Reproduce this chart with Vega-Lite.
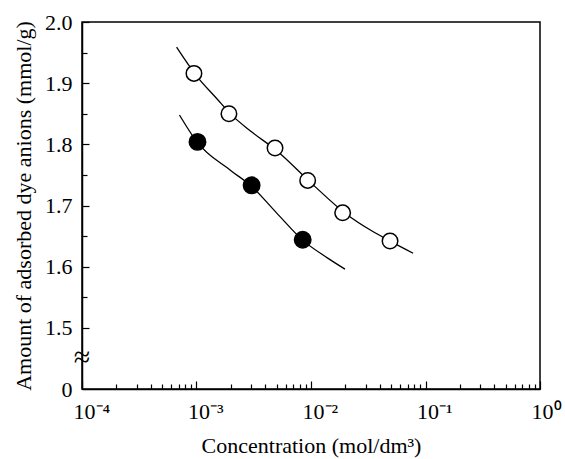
{
  "$schema": "https://vega.github.io/schema/vega-lite/v6.json",
  "width": 458,
  "height": 367,
  "autosize": {"type": "none"},
  "padding": {"left": 82, "top": 22, "right": 25, "bottom": 70},
  "background": "white",
  "config": {
    "view": {"stroke": "black", "strokeWidth": 1.5},
    "font": "Liberation Serif",
    "axis": {
      "grid": false,
      "domainColor": "black",
      "domainWidth": 1.5,
      "tickColor": "black",
      "tickWidth": 1.2,
      "labelColor": "black",
      "titleColor": "black",
      "labelFont": "Liberation Serif",
      "titleFont": "Liberation Serif",
      "labelFontSize": 22,
      "titleFontSize": 22,
      "titleFontWeight": "normal"
    }
  },
  "datasets": {
    "curves": [
      {"series": "open", "conc": 0.00067, "amount": 1.959},
      {"series": "open", "conc": 0.001, "amount": 1.912},
      {"series": "open", "conc": 0.0015, "amount": 1.875},
      {"series": "open", "conc": 0.002, "amount": 1.849},
      {"series": "open", "conc": 0.003, "amount": 1.821},
      {"series": "open", "conc": 0.005, "amount": 1.79},
      {"series": "open", "conc": 0.01, "amount": 1.737},
      {"series": "open", "conc": 0.02, "amount": 1.687},
      {"series": "open", "conc": 0.035, "amount": 1.657},
      {"series": "open", "conc": 0.05, "amount": 1.641},
      {"series": "open", "conc": 0.078, "amount": 1.622},
      {"series": "filled", "conc": 0.00071, "amount": 1.848},
      {"series": "filled", "conc": 0.001, "amount": 1.805},
      {"series": "filled", "conc": 0.002, "amount": 1.757},
      {"series": "filled", "conc": 0.003, "amount": 1.732},
      {"series": "filled", "conc": 0.005, "amount": 1.688},
      {"series": "filled", "conc": 0.0085, "amount": 1.643},
      {"series": "filled", "conc": 0.014, "amount": 1.614},
      {"series": "filled", "conc": 0.0198, "amount": 1.596}
    ],
    "points": [
      {"series": "open", "conc": 0.00095, "amount": 1.916},
      {"series": "open", "conc": 0.00192, "amount": 1.85},
      {"series": "open", "conc": 0.00485, "amount": 1.794},
      {"series": "open", "conc": 0.00935, "amount": 1.741},
      {"series": "open", "conc": 0.0189, "amount": 1.688},
      {"series": "open", "conc": 0.049, "amount": 1.642},
      {"series": "filled", "conc": 0.00102, "amount": 1.804},
      {"series": "filled", "conc": 0.00303, "amount": 1.733},
      {"series": "filled", "conc": 0.00846, "amount": 1.644}
    ],
    "breaks": [
      {"conc": 0.0001, "amount": 1.451, "sym": "≈"}
    ]
  },
  "layer": [
    {
      "data": {"name": "curves"},
      "mark": {"type": "line", "color": "black", "strokeWidth": 1.3, "interpolate": "monotone"},
      "encoding": {
        "x": {
          "field": "conc", "type": "quantitative",
          "scale": {"type": "log", "domain": [0.0001, 1], "nice": false},
          "axis": {
            "orient": "bottom",
            "values": [0.0001, 0.001, 0.01, 0.1, 1],
            "ticks": false,
            "labelPadding": 12,
            "labelAlign": "left",
            "labelOffset": -9,
            "labelExpr": "'10' + ['⁻⁴','⁻³','⁻²','⁻¹','⁰'][round(log(datum.value)/LN10) + 4]",
            "title": "Concentration (mol/dm³)",
            "titlePadding": 13
          }
        },
        "y": {
          "field": "amount", "type": "quantitative",
          "scale": {"domain": [1.4, 2.0], "nice": false, "zero": false},
          "axis": {
            "orient": "left",
            "values": [1.4, 1.5, 1.6, 1.7, 1.8, 1.9, 2.0],
            "ticks": false,
            "labelPadding": 10,
            "labelExpr": "datum.value < 1.45 ? '0' : format(datum.value, '.1f')",
            "title": "Amount of adsorbed dye anions (mmol/g)",
            "titlePadding": 9
          }
        },
        "detail": {"field": "series", "type": "nominal"}
      }
    },
    {
      "data": {"name": "points"},
      "mark": {"type": "point", "shape": "circle", "filled": true, "stroke": "black", "strokeWidth": 1.5, "opacity": 1},
      "encoding": {
        "x": {
          "field": "conc", "type": "quantitative",
          "scale": {"type": "log", "domain": [0.0001, 1], "nice": false},
          "axis": {
            "orient": "bottom",
            "values": [0.0001, 0.001, 0.01, 0.1, 1],
            "labels": false, "domain": false, "tickSize": -8, "title": null
          }
        },
        "y": {
          "field": "amount", "type": "quantitative",
          "scale": {"domain": [1.4, 2.0], "nice": false, "zero": false},
          "axis": {
            "orient": "left",
            "values": [1.5, 1.6, 1.7, 1.8, 1.9, 2.0],
            "labels": false, "domain": false, "tickSize": -7, "title": null
          }
        },
        "fill": {
          "field": "series", "type": "nominal",
          "scale": {"domain": ["filled", "open"], "range": ["black", "white"]},
          "legend": null
        },
        "size": {
          "field": "series", "type": "nominal",
          "scale": {"domain": ["filled", "open"], "range": [270, 240]},
          "legend": null
        }
      }
    },
    {
      "data": {"name": "breaks"},
      "mark": {"type": "text", "fontSize": 30, "font": "Liberation Serif", "align": "center", "baseline": "middle", "color": "black"},
      "encoding": {
        "x": {
          "field": "conc", "type": "quantitative",
          "scale": {"type": "log", "domain": [0.0001, 1], "nice": false},
          "axis": {
            "orient": "bottom",
            "values": [0.0002, 0.0003, 0.0004, 0.0005, 0.0006, 0.0007, 0.0008, 0.0009, 0.002, 0.003, 0.004, 0.005, 0.006, 0.007, 0.008, 0.009, 0.02, 0.03, 0.04, 0.05, 0.06, 0.07, 0.08, 0.09, 0.2, 0.3, 0.4, 0.5, 0.6, 0.7, 0.8, 0.9],
            "labels": false, "domain": false, "tickSize": -5, "title": null
          }
        },
        "y": {
          "field": "amount", "type": "quantitative",
          "scale": {"domain": [1.4, 2.0], "nice": false, "zero": false},
          "axis": {
            "orient": "left",
            "values": [1.55, 1.65, 1.75, 1.85, 1.95],
            "labels": false, "domain": false, "tickSize": -5, "title": null
          }
        },
        "text": {"field": "sym", "type": "nominal"}
      }
    }
  ],
  "resolve": {"axis": {"x": "independent", "y": "independent"}}
}
